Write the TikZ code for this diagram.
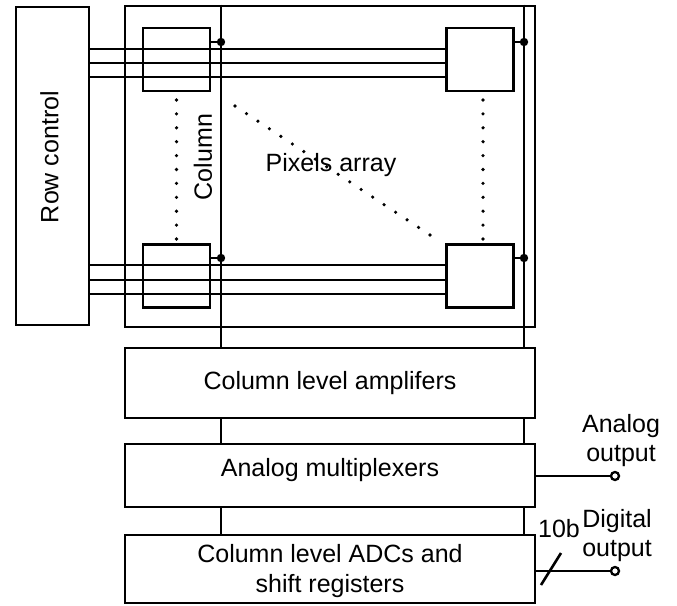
\documentclass[tikz,border=0pt]{standalone}
\usepackage{fontspec}
\setmainfont{Liberation Sans}
\begin{document}
\begin{tikzpicture}[x=1pt,y=-1pt,line width=2.6pt,
  every node/.style={font=\fontsize{25}{29}\selectfont},
  box/.style={draw,rectangle,inner sep=0pt,fill=white},
  pix/.style={draw,rectangle,inner sep=0pt,minimum width=67pt,minimum height=63pt},
  lbl/.style={inner sep=0pt,align=center},
  jdot/.style={fill=black},
  sdot/.style={fill=black},
  outc/.style={draw,circle,fill=white,inner sep=0pt,minimum size=8pt,line width=2.3pt}]
\useasboundingbox (0,0) rectangle (677,605);
% main blocks
\node[box,minimum width=73pt,minimum height=318pt] (row) at (52.5,166) {};
\node[lbl,rotate=90] (rowlbl) at (49.5,157) {Row control};
\node[draw,rectangle,inner sep=0pt,minimum width=410pt,minimum height=321pt] (array) at (330,166.5) {};
\node[box,minimum width=410pt,minimum height=70pt] (amp) at (330,383) {};
\node[lbl] (amplbl) at (330,383.5) {Column level amplifers};
\node[box,minimum width=410pt,minimum height=63pt] (mux) at (330,475.5) {};
\node[lbl] (muxlbl) at (330,470.5) {Analog multiplexers};
\node[box,minimum width=410pt,minimum height=68pt] (adc) at (330,569) {};
\node[lbl,font=\fontsize{25}{30}\selectfont] (adclbl) at (330,571.5) {Column level ADCs and\\shift registers};
% pixels
\node[pix] (p11) at (176.5,59.5) {};
\node[pix] (p12) at (480,59.5) {};
\node[pix] (p21) at (176.5,276) {};
\node[pix] (p22) at (480,276) {};
% row lines
\foreach \y in {49,63,77} {
  \coordinate (ry) at (0,\y);
  \draw (row.east |- ry) -- (p12.west |- ry);
}
\foreach \y in {265,280,294} {
  \coordinate (ry) at (0,\y);
  \draw (row.east |- ry) -- (p22.west |- ry);
}
% column lines
\coordinate (cl) at (221,0);
\coordinate (cr) at (524,0);
\foreach \c in {cl,cr} {
  \draw (array.north -| \c) -- (amp.north -| \c);
  \draw (amp.south -| \c) -- (mux.north -| \c);
  \draw (mux.south -| \c) -- (adc.north -| \c);
}
% pixel to column stubs with junction dots
\coordinate (j11) at (221,42);
\coordinate (j12) at (524,42);
\coordinate (j21) at (221,258);
\coordinate (j22) at (524,258);
\draw (p11.east |- j11) -- (j11);
\draw (p12.east |- j12) -- (j12);
\draw (p21.east |- j21) -- (j21);
\draw (p22.east |- j22) -- (j22);
\foreach \j in {j11,j12,j21,j22} \fill[jdot] (\j) circle[radius=4.2pt];
% dotted lines
\foreach \i in {0,...,10} {
  \fill[sdot] (176.5,100+13.9*\i) circle[radius=1.8pt];
  \fill[sdot] (483,100+13.9*\i) circle[radius=1.8pt];
}
\foreach \i in {0,...,17} {
  \fill[sdot] (235+11.47*\i,106+7.59*\i) circle[radius=1.8pt];
}
% labels inside array
\node[lbl,rotate=90] (collbl) at (203,157) {Column};
\node[lbl] (pixlbl) at (331,165.5) {Pixels array};
% outputs
\node[outc] (ao) at (615,476) {};
\node[outc] (do) at (615,571) {};
\draw (mux.east |- ao) -- (ao);
\draw (adc.east |- do) -- (do);
\draw (541,585) -- (561,553);
\node[lbl] (aolbl) at (621,440.5) {Analog\\output};
\node[lbl] (dolbl) at (617,535.5) {Digital\\output};
\node[lbl] (bits) at (559,529) {10b};
\end{tikzpicture}
\end{document}
